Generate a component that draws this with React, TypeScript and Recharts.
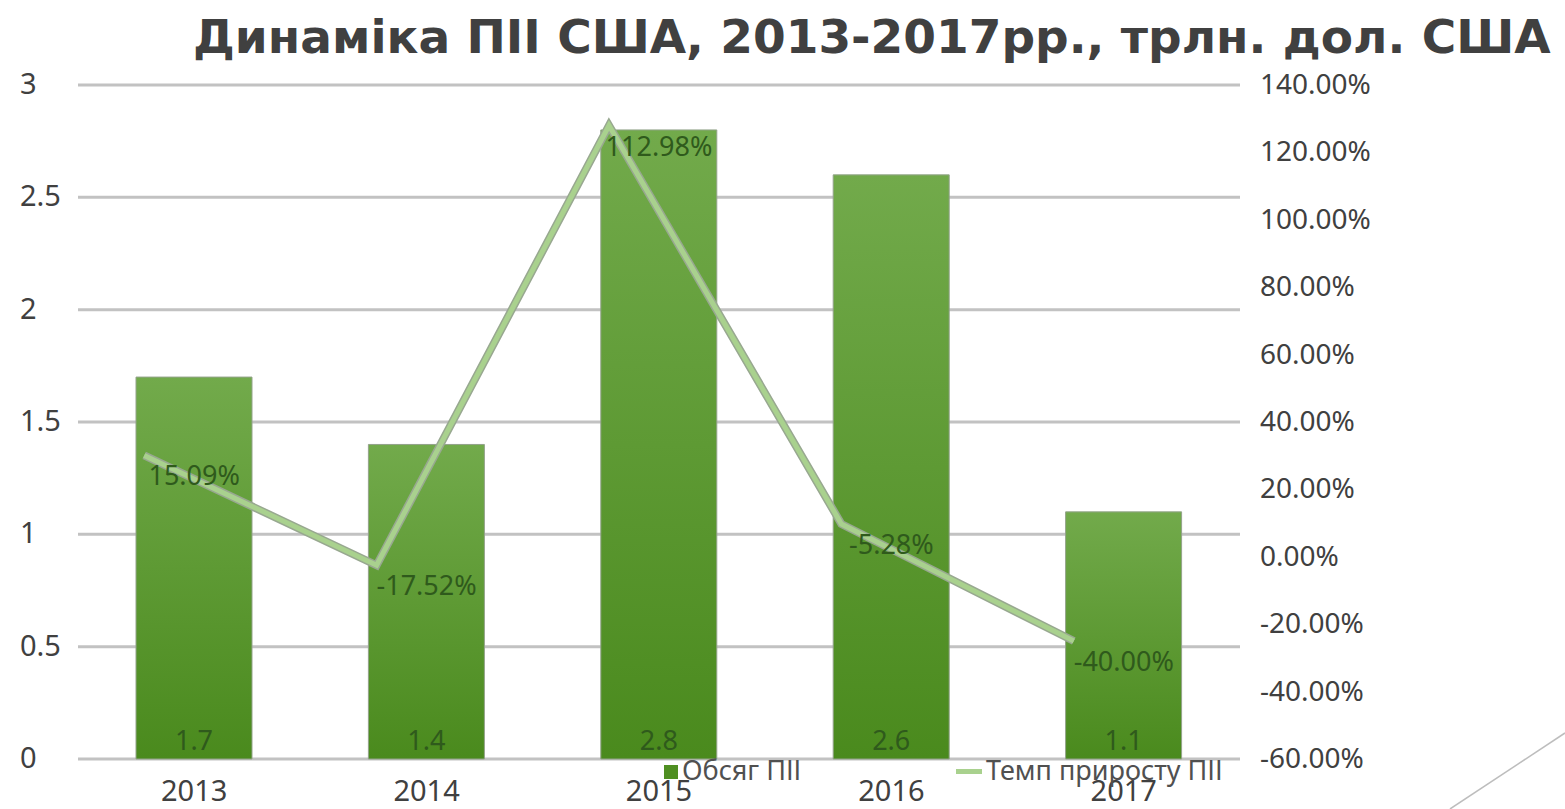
import { ComposedChart, Bar, Line, XAxis, YAxis, CartesianGrid, LabelList } from 'recharts';

const years = ['2013', '2014', '2015', '2016', '2017'];
const volume = [1.7, 1.4, 2.8, 2.6, 1.1];
const growth = [15.09, -17.52, 112.98, -5.28, -40.0];
const leftTicks = [0, 0.5, 1, 1.5, 2, 2.5, 3];
const rightTicks = [-60, -40, -20, 0, 20, 40, 60, 80, 100, 120, 140];

const data = years.map((year, i) => ({ year, volume: volume[i], growth: growth[i] }));

const FONT = '"Noto Sans", sans-serif';
const TICK = '#404040';

const LeftTick = (p: any) => (
  <text x={20} y={p.y} dy={9} fontSize={29} fontFamily={FONT} fill={TICK} textAnchor="start">
    {p.payload.value}
  </text>
);

const RightTick = (p: any) => (
  <text x={1260} y={p.y} dy={9} fontSize={28} fontFamily={FONT} fill={TICK} textAnchor="start">
    {p.payload.value.toFixed(2)}%
  </text>
);

const BottomTick = (p: any) => (
  <text x={p.x} y={p.y} dy={34} fontSize={29} fontFamily={FONT} fill={TICK} textAnchor="middle">
    {p.payload.value}
  </text>
);

const GrowthLabel = (p: any) => (
  <text x={p.x + 50} y={p.y + 21} dy={9} fontSize={27} fontFamily={FONT} fill="#2f5a1c" textAnchor="middle">
    {Number(p.value).toFixed(2)}%
  </text>
);

const VolumeLabel = (p: any) => (
  <text x={p.x + p.width / 2} y={p.y + p.height - 18} dy={9} fontSize={27} fontFamily={FONT} fill="#2f5a1c" textAnchor="middle">
    {p.value}
  </text>
);

const LegendBox = () => (
  <div style={{ position: 'absolute', left: 664, top: 760, height: 30, fontFamily: FONT, fontSize: 27, color: '#505050' }}>
    <div style={{ position: 'absolute', left: 0, top: 5, width: 14, height: 14, background: '#4f8f22' }} />
    <span style={{ position: 'absolute', left: 18, top: -9, whiteSpace: 'nowrap' }}>Обсяг ПІІ</span>
    <div style={{ position: 'absolute', left: 292, top: 9, width: 26, height: 5, background: '#a9d18e' }} />
    <span style={{ position: 'absolute', left: 322, top: -9, whiteSpace: 'nowrap' }}>Темп приросту ПІІ</span>
  </div>
);

export default function App() {
  return (
    <div style={{ position: 'absolute', left: 0, top: 0, width: 1565, height: 809, background: '#fff', overflow: 'hidden' }}>
      <div
        style={{
          position: 'absolute',
          left: 193,
          top: 9,
          fontFamily: '"DejaVu Sans", sans-serif',
          fontWeight: 'bold',
          fontSize: 47,
          color: '#404040',
          whiteSpace: 'nowrap',
        }}
      >
        Динаміка ПІІ США, 2013-2017рр., трлн. дол. США
      </div>
      <ComposedChart width={1565} height={809} data={data} margin={{ top: 85, right: 0, bottom: 0, left: 0 }}>
        <defs>
          <linearGradient id="barFill" x1="0" y1="0" x2="0" y2="1">
            <stop offset="0%" stopColor="#72aa4b" />
            <stop offset="100%" stopColor="#4a8a1d" />
          </linearGradient>
        </defs>
        <CartesianGrid yAxisId="left" vertical={false} stroke="#c2c2c2" strokeWidth={3} />
        <XAxis dataKey="year" height={50} tick={<BottomTick />} tickLine={false} axisLine={false} />
        <XAxis xAxisId="line" dataKey="year" hide padding={{ left: -50, right: 50 }} />
        <YAxis yAxisId="left" width={78} domain={[0, 3]} ticks={leftTicks} tick={<LeftTick />} tickLine={false} axisLine={false} />
        <YAxis
          yAxisId="right"
          orientation="right"
          width={325}
          domain={[-60, 140]}
          ticks={rightTicks}
          tick={<RightTick />}
          tickLine={false}
          axisLine={false}
          allowDataOverflow
        />
        <YAxis yAxisId="line" hide domain={[-75, 125]} allowDataOverflow />
        <Bar yAxisId="left" dataKey="volume" barSize={116} fill="url(#barFill)" stroke="#93a38a" strokeWidth={1} isAnimationActive={false}>
          <LabelList dataKey="volume" content={<VolumeLabel />} />
        </Bar>
        <Line
          xAxisId="line"
          yAxisId="line"
          dataKey="growth"
          stroke="#98a890"
          strokeWidth={8}
          dot={false}
          legendType="none"
          isAnimationActive={false}
        />
        <Line
          xAxisId="line"
          yAxisId="line"
          dataKey="growth"
          stroke="#a9d18e"
          strokeWidth={5}
          dot={false}
          isAnimationActive={false}
        >
          <LabelList dataKey="growth" content={<GrowthLabel />} />
        </Line>
      </ComposedChart>
      <LegendBox />
      <svg style={{ position: 'absolute', left: 0, top: 0 }} width={1565} height={809}>
        <line x1={1450} y1={809} x2={1565} y2={733} stroke="#bdbdbd" strokeWidth={1.5} />
      </svg>
    </div>
  );
}
